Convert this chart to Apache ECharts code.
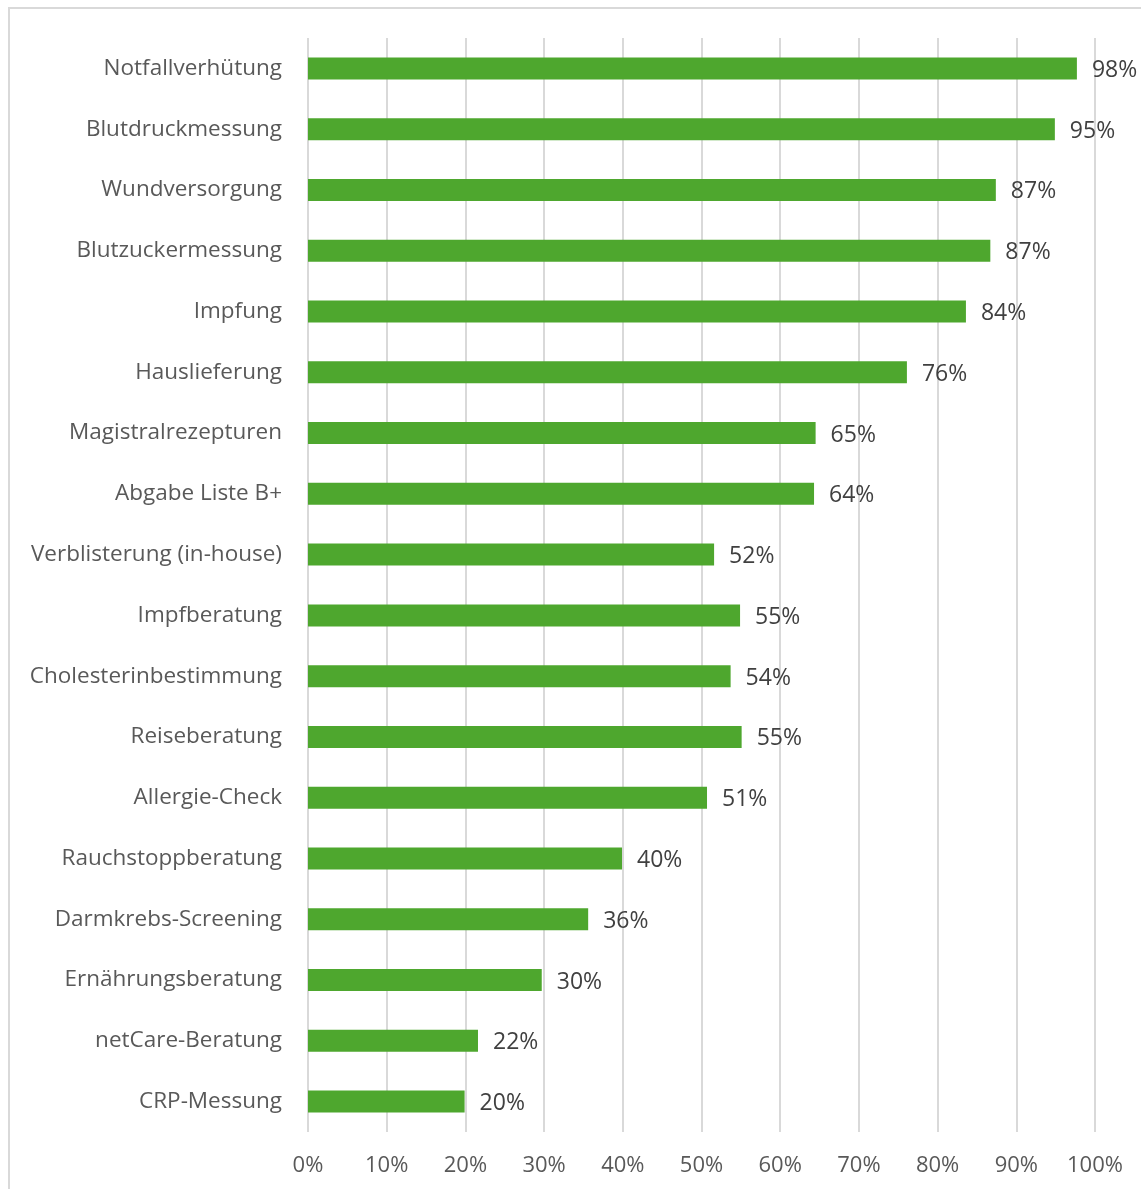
<!DOCTYPE html>
<html>
<head>
<meta charset="utf-8">
<script src="https://cdn.jsdelivr.net/npm/echarts@6/dist/echarts.min.js"></script>
<style>
    html, body { margin: 0; padding: 0; background: #fff; overflow: hidden; }
    #frame {
        position: absolute; left: 8px; top: 7px;
        width: 1300px; height: 1300px;
        border: 2px solid #d9d9d9; box-sizing: border-box;
    }
    #chart { position: absolute; left: 0; top: 0; width: 1141px; height: 1189px; }
</style>
</head>
<body>
<div id="frame"></div>
<div id="chart"></div>
<script>
// categories top to bottom
const categories = [
    'Notfallverhütung', 'Blutdruckmessung', 'Wundversorgung', 'Blutzuckermessung',
    'Impfung', 'Hauslieferung', 'Magistralrezepturen', 'Abgabe Liste B+',
    'Verblisterung (in-house)', 'Impfberatung', 'Cholesterinbestimmung', 'Reiseberatung',
    'Allergie-Check', 'Rauchstoppberatung', 'Darmkrebs-Screening', 'Ernährungsberatung',
    'netCare-Beratung', 'CRP-Messung'
];
// share in percent
const values = [
    97.7, 94.9, 87.4, 86.7,
    83.6, 76.1, 64.5, 64.3,
    51.6, 54.9, 53.7, 55.1,
    50.7, 39.9, 35.6, 29.7,
    21.6, 19.9
];
const xTicks = [0, 10, 20, 30, 40, 50, 60, 70, 80, 90, 100];

const chart = echarts.init(document.getElementById('chart'), null, { renderer: 'canvas' });
const font = "'Open Sans', 'Noto Sans', sans-serif";

chart.setOption({
    animation: false,
    grid: { left: 308, right: 46, top: 38, bottom: 57, containLabel: false },
    xAxis: {
        type: 'value',
        min: xTicks[0],
        max: xTicks[xTicks.length - 1],
        interval: 10,
        axisLine: { show: false },
        axisTick: { show: false },
        splitLine: { show: true, lineStyle: { color: '#d9d9d9', width: 2 } },
        axisLabel: {
            formatter: v => v + '%',
            color: '#595959',
            fontFamily: font,
            fontSize: 22,
            margin: 23
        }
    },
    yAxis: {
        type: 'category',
        inverse: true,
        data: categories,
        axisLine: { show: false },
        axisTick: { show: false },
        axisLabel: {
            color: '#595959',
            fontFamily: font,
            fontSize: 22.5,
            margin: 26
        }
    },
    series: [{
        type: 'bar',
        data: values,
        barWidth: 22,
        itemStyle: { color: '#4ea72e' },
        label: {
            show: true,
            position: 'right',
            distance: 15,
            offset: [0, 2],
            formatter: p => Math.round(p.value) + '%',
            color: '#404040',
            fontFamily: font,
            fontSize: 23
        }
    }]
});
</script>
</body>
</html>
